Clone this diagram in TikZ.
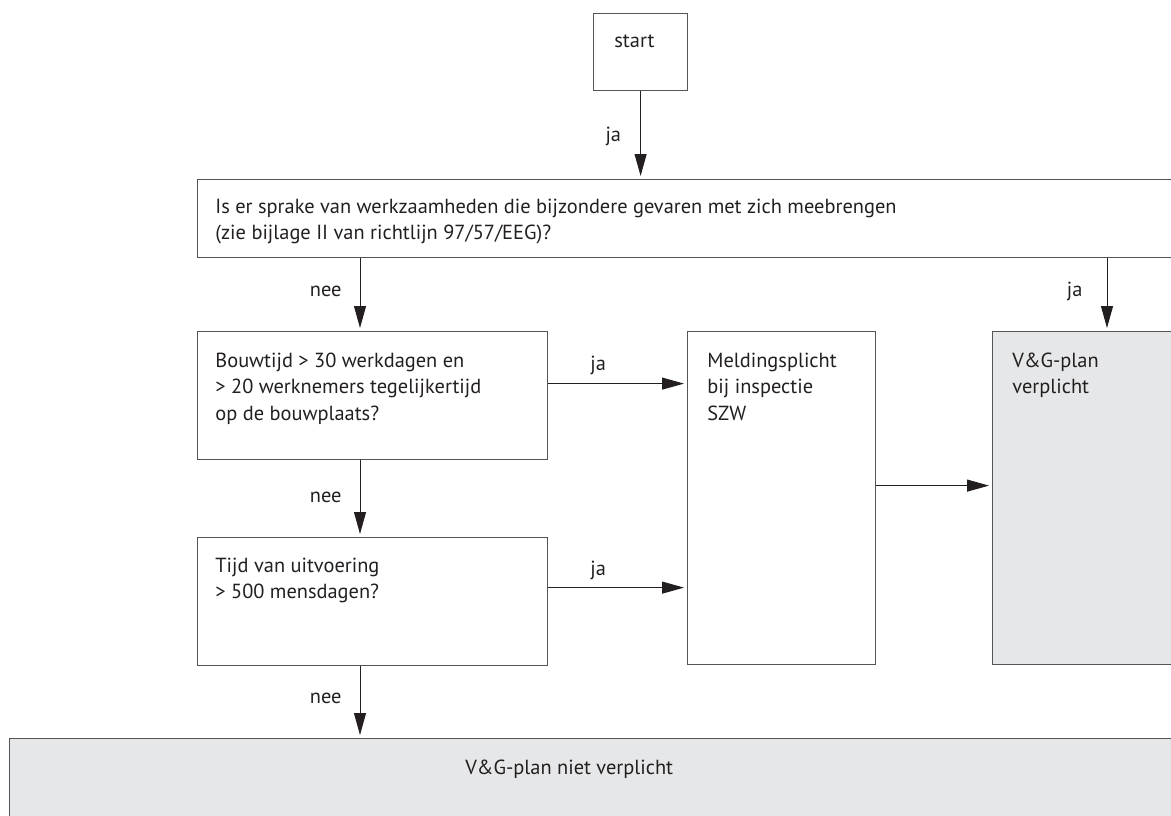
\documentclass[tikz,border=0pt]{standalone}
\usepackage{fontspec}
\setmainfont{PT Sans}
\usetikzlibrary{positioning, arrows.meta, calc}
\definecolor{boxline}{HTML}{555555}
\definecolor{planfill}{HTML}{E6E7E8}
\definecolor{inkgray}{HTML}{231F20}
\newcommand{\boxlines}[1]{\begin{tabular}[t]{@{}l@{}}#1\end{tabular}}

\begin{document}
\begin{tikzpicture}[x=0.5pt, y=-0.5pt, font=\fontsize{10.2}{13.3}\selectfont, text=inkgray,
  box/.style={draw=boxline, line width=0.6pt, inner sep=0pt, anchor=north west},
  boxtext/.style={anchor=base west, inner sep=0pt},
  flow/.style={-{Triangle[length=11pt, width=6pt]}, draw=inkgray, line width=0.5pt, shorten >=1.5pt},
  lbl/.style={inner sep=0pt}]
  \path[use as bounding box, clip] (0,0) rectangle (1171,815);
  % boxes
  \node[box, minimum width=47pt, minimum height=38.5pt] (start) at (593,13) {};
  \node[box, minimum width=500pt, minimum height=39pt] (q1) at (197,179) {};
  \node[box, minimum width=175pt, minimum height=64pt] (bouw) at (197,331) {};
  \node[box, minimum width=175pt, minimum height=64pt] (tijd) at (197,537) {};
  \node[box, minimum width=94pt, minimum height=166.5pt] (meld) at (687,331) {};
  \node[box, fill=planfill, minimum width=100pt, minimum height=166.5pt] (plan) at (992,331) {};
  \node[box, fill=planfill, minimum width=595pt, minimum height=50pt] (niet) at (9,738) {};
  % box texts
  \node[boxtext] (start-t) at ([shift={(21,34)}]start.north west) {start};
  \node[boxtext] (q1-t) at ([shift={(18,34)}]q1.north west)
    {\boxlines{Is er sprake van werkzaamheden die bijzondere gevaren met zich meebrengen\\(zie bijlage II van richtlijn 97/57/EEG)?}};
  \node[boxtext] (bouw-t) at ([shift={(18,36)}]bouw.north west)
    {\boxlines{Bouwtijd > 30 werkdagen en\\> 20 werknemers tegelijkertijd\\op de bouwplaats?}};
  \node[boxtext] (tijd-t) at ([shift={(18,35)}]tijd.north west) {\boxlines{Tijd van uitvoering\\> 500 mensdagen?}};
  \node[boxtext] (meld-t) at ([shift={(20,36)}]meld.north west) {\boxlines{Meldingsplicht\\bij inspectie\\SZW}};
  \node[boxtext] (plan-t) at ([shift={(20,36)}]plan.north west) {\boxlines{V\&G-plan\\verplicht}};
  \node[boxtext] (niet-t) at ([shift={(456,36)}]niet.north west) {V\&G-plan niet verplicht};
  % connectors
  \coordinate (spine) at (360,0);
  \coordinate (rspine) at (1107,0);
  \coordinate (bouw-out) at ([yshift=6pt]bouw.east);
  \coordinate (tijd-out) at ([yshift=7pt]tijd.east);
  \draw[flow] (start.south) -- (start.south |- q1.north)
    node[lbl, pos=0.57, anchor=base east, xshift=-9.5pt] (l-ja0) {ja};
  \draw[flow] (spine |- q1.south) -- (spine |- bouw.north)
    node[lbl, pos=0.53, anchor=base east, xshift=-9pt] (l-nee1) {nee};
  \draw[flow] (rspine |- q1.south) -- (rspine |- plan.north)
    node[lbl, pos=0.53, anchor=base east, xshift=-12pt] (l-ja1) {ja};
  \draw[flow] (spine |- bouw.south) -- (spine |- tijd.north)
    node[lbl, pos=0.55, anchor=base east, xshift=-9pt] (l-nee2) {nee};
  \draw[flow] (spine |- tijd.south) -- (spine |- niet.north)
    node[lbl, pos=0.52, anchor=base east, xshift=-9pt] (l-nee3) {nee};
  \draw[flow] (bouw-out) -- (bouw-out -| meld.west)
    node[lbl, pos=0.36, anchor=base, yshift=6.5pt] (l-ja2) {ja};
  \draw[flow] (tijd-out) -- (tijd-out -| meld.west)
    node[lbl, pos=0.36, anchor=base, yshift=6pt] (l-ja3) {ja};
  \draw[flow] ([yshift=6.25pt]meld.east) -- ([yshift=6.25pt]plan.west);
\end{tikzpicture}
\end{document}
